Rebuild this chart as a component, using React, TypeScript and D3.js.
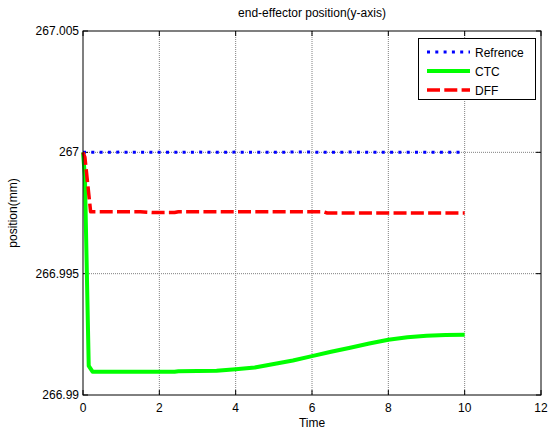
import React from "react";
import * as d3 from "d3";

const refX = [0, 0.5, 1, 1.5, 2, 2.5, 3, 3.5, 4, 4.5, 5, 5.5, 6, 6.5, 7, 7.5, 8, 8.5, 9, 9.5, 10];
const refY = [267, 267, 267.00001, 267, 267, 267, 267.00001, 267, 267.00001, 267, 267, 267.00001, 267.00001, 267, 267.00001, 267, 267, 267, 267, 267, 267];

const ctcX = [0, 0.05, 0.15, 0.25, 1, 2, 2.4, 2.5, 3.5, 4, 4.5, 5, 5.5, 6, 6.5, 7, 7.5, 8, 8.5, 9, 9.5, 10];
const ctcY = [267, 266.999, 266.9912, 266.99096, 266.99096, 266.99096, 266.99096, 266.99098, 266.991, 266.99106, 266.99113, 266.99128, 266.99142, 266.9916, 266.99178, 266.99195, 266.99212, 266.99228, 266.99238, 266.99244, 266.99247, 266.99248];

const dffX = [0, 0.05, 0.2, 1.5, 1.8, 2.4, 2.5, 6.3, 6.4, 10];
const dffY = [267, 266.9998, 266.99755, 266.99755, 266.99752, 266.99752, 266.99755, 266.99755, 266.9975, 266.9975];

const xTicks = [0, 2, 4, 6, 8, 10, 12];
const yTicks = [266.99, 266.995, 267, 267.005];
const yTickLabels = ["266.99", "266.995", "267", "267.005"];

const seriesNames = ["Refrence", "CTC", "DFF"];

export default function App() {
  const W = 549, H = 434;
  const L = 83, R = 541, T = 31, B = 395;
  const x = d3.scaleLinear().domain([0, 12]).range([L, R]);
  const y = d3.scaleLinear().domain([266.99, 267.005]).range([B, T]);
  const line = d3.line<[number, number]>().x(d => x(d[0])).y(d => y(d[1]));
  const zip = (a: number[], b: number[]) => a.map((v, i) => [v, b[i]] as [number, number]);
  const font = "Liberation Sans, Arial, sans-serif";
  const styles = [
    { stroke: "#0000ff", width: 3, dash: "3,5.3" },
    { stroke: "#00ff00", width: 4, dash: "" },
    { stroke: "#ff0000", width: 3.5, dash: "13,4.3" },
  ];
  const data = [zip(refX, refY), zip(ctcX, ctcY), zip(dffX, dffY)];
  return (
    <svg width={W} height={H} style={{ position: "absolute", left: 0, top: 0 }} fontFamily={font}>
      <rect x={0} y={0} width={W} height={H} fill="#fff" />
      {/* grid */}
      {xTicks.slice(1, -1).map(t => (
        <line key={"gx" + t} x1={x(t)} x2={x(t)} y1={T} y2={B} stroke="#808080" strokeWidth={1} strokeDasharray="1,1" />
      ))}
      {yTicks.slice(1, -1).map(t => (
        <line key={"gy" + t} x1={L} x2={R} y1={y(t)} y2={y(t)} stroke="#808080" strokeWidth={1} strokeDasharray="1,1" />
      ))}
      {/* ticks */}
      {xTicks.map(t => (
        <g key={"tx" + t}>
          <line x1={x(t)} x2={x(t)} y1={B} y2={B - 5} stroke="#000" />
          <line x1={x(t)} x2={x(t)} y1={T} y2={T + 5} stroke="#000" />
          <text x={x(t)} y={B + 17} fontSize={12} textAnchor="middle">{t}</text>
        </g>
      ))}
      {yTicks.map((t, i) => (
        <g key={"ty" + t}>
          <line x1={L} x2={L + 5} y1={y(t)} y2={y(t)} stroke="#000" />
          <line x1={R} x2={R - 5} y1={y(t)} y2={y(t)} stroke="#000" />
          <text x={L - 4} y={y(t) + 4} fontSize={12} textAnchor="end">{yTickLabels[i]}</text>
        </g>
      ))}
      {/* series */}
      {data.map((d, i) => (
        <path key={"s" + i} d={line(d) || ""} fill="none" stroke={styles[i].stroke} strokeWidth={styles[i].width}
          strokeDasharray={styles[i].dash || undefined} strokeLinejoin="round" />
      ))}
      {/* axes box */}
      <rect x={L} y={T} width={R - L} height={B - T} fill="none" stroke="#000" strokeWidth={1} />
      {/* title & labels */}
      <text x={(L + R) / 2} y={17} fontSize={12} textAnchor="middle">end-effector position(y-axis)</text>
      <text x={(L + R) / 2} y={427} fontSize={12} textAnchor="middle">Time</text>
      <text transform={`translate(17,${(T + B) / 2}) rotate(-90)`} fontSize={12} textAnchor="middle">position(mm)</text>
      {/* legend */}
      <rect x={418.5} y={38.5} width={117} height={61} fill="#fff" stroke="#000" strokeWidth={1} />
      {seriesNames.map((n, i) => (
        <g key={"lg" + n}>
          <line x1={427} x2={470} y1={52 + i * 19} y2={52 + i * 19} stroke={styles[i].stroke} strokeWidth={styles[i].width}
            strokeDasharray={styles[i].dash || undefined} />
          <text x={475} y={56.5 + i * 19} fontSize={12}>{n}</text>
        </g>
      ))}
    </svg>
  );
}
